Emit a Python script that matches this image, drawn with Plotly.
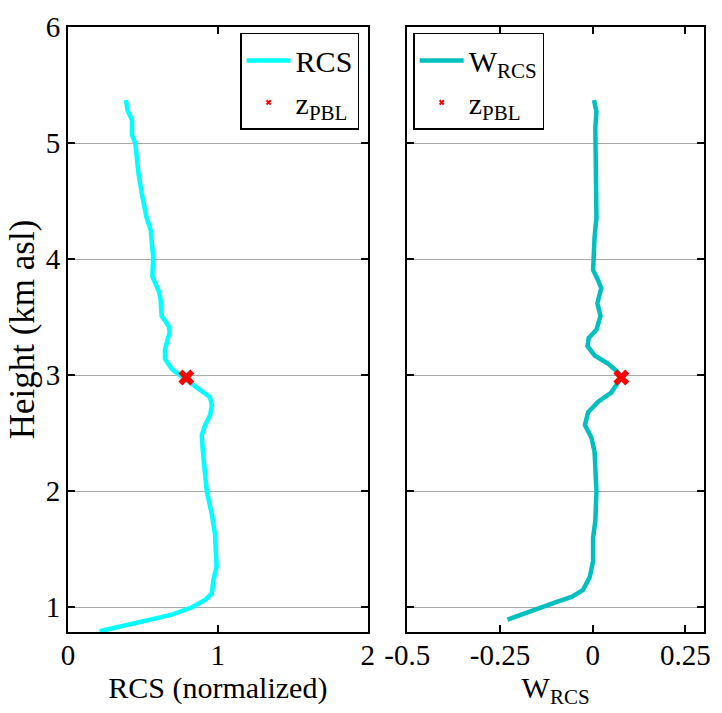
import plotly.graph_objects as go

# RCS profile (normalized) vs height (km asl)
rcs_h = [5.37, 5.28, 5.20, 5.07, 5.00, 4.73, 4.56, 4.36, 4.25, 4.02, 3.85, 3.72, 3.65,
         3.51, 3.42, 3.37, 3.22, 3.14, 3.05, 2.98, 2.88, 2.81, 2.74, 2.655, 2.57, 2.485,
         2.37, 2.17, 2.00, 1.80, 1.63, 1.49, 1.35, 1.235, 1.12, 1.064, 1.00, 0.936,
         0.879, 0.836, 0.793]
rcs_x = [0.387, 0.398, 0.427, 0.427, 0.449, 0.471, 0.493, 0.524, 0.552, 0.568, 0.563,
         0.607, 0.618, 0.625, 0.673, 0.678, 0.647, 0.647, 0.695, 0.772, 0.871, 0.948,
         0.960, 0.948, 0.915, 0.893, 0.898, 0.915, 0.926, 0.960, 0.981, 0.986, 0.992,
         0.970, 0.960, 0.915, 0.827, 0.695, 0.497, 0.343, 0.211]

# Wavelet covariance of RCS vs height
w_h = [5.37, 5.27, 5.13, 4.79, 4.36, 4.19, 4.02, 3.905, 3.82, 3.75, 3.62, 3.51, 3.39,
       3.32, 3.25, 3.17, 3.10, 3.025, 2.98, 2.85, 2.77, 2.68, 2.57, 2.46, 2.34, 2.00,
       1.745, 1.60, 1.40, 1.26, 1.15, 1.09, 1.05, 1.00, 0.95, 0.893]
w_x = [0.0035, 0.010, 0.007, 0.007, 0.010, 0.005, 0.002, 0.001, 0.014, 0.023, 0.0125,
       0.021, 0.010, -0.011, -0.014, 0.005, 0.041, 0.068, 0.077, 0.050, 0.014, -0.0125,
       -0.021, -0.0035, 0.005, 0.010, 0.007, 0.001, 0.001, -0.008, -0.026, -0.057,
       -0.093, -0.137, -0.181, -0.230]

# Detected PBL top
zpbl_h = 2.98
zpbl_rcs = 0.79
zpbl_w = 0.077

FONT = "Liberation Serif, Times New Roman, serif"

fig = go.Figure()

fig.add_trace(go.Scatter(x=rcs_x, y=rcs_h, mode="lines", name="RCS",
                         line=dict(color="#00FFFF", width=4.5),
                         xaxis="x", yaxis="y", legend="legend"))
fig.add_trace(go.Scatter(x=[None], y=[None], mode="markers", name="z<sub>PBL</sub>",
                         marker=dict(symbol="x", color="red", size=5),
                         xaxis="x", yaxis="y", legend="legend"))
fig.add_trace(go.Scatter(x=[zpbl_rcs], y=[zpbl_h], mode="markers", showlegend=False,
                         marker=dict(symbol="x", color="red", size=14),
                         xaxis="x", yaxis="y"))

fig.add_trace(go.Scatter(x=w_x, y=w_h, mode="lines", name="W<sub>RCS</sub>",
                         line=dict(color="#00BFBF", width=4.5),
                         xaxis="x2", yaxis="y2", legend="legend2"))
fig.add_trace(go.Scatter(x=[None], y=[None], mode="markers", name="z<sub>PBL</sub>",
                         marker=dict(symbol="x", color="red", size=5),
                         xaxis="x2", yaxis="y2", legend="legend2"))
fig.add_trace(go.Scatter(x=[zpbl_w], y=[zpbl_h], mode="markers", showlegend=False,
                         marker=dict(symbol="x", color="red", size=14),
                         xaxis="x2", yaxis="y2"))

axis_common = dict(showline=True, linecolor="black", linewidth=2, mirror="ticks",
                   ticks="inside", ticklen=7, tickwidth=2, tickcolor="black",
                   zeroline=False, tickfont=dict(family=FONT, size=29, color="black"))

W, H = 722, 713
ml, mr, mt, mb = 68, 11, 20, 81
pw = W - ml - mr
ph = H - mt - mb
x1_end = (371 - ml) / pw
x2_start = (411 - ml) / pw

legend_style = dict(xanchor="left", yanchor="top", bgcolor="white", bordercolor="black",
                    borderwidth=1.5, itemwidth=44,
                    font=dict(family=FONT, size=30, color="black"))

fig.update_layout(
    width=W, height=H,
    margin=dict(l=ml, r=mr, t=mt, b=mb),
    paper_bgcolor="white", plot_bgcolor="white",
    font=dict(family=FONT, color="black"),
    xaxis=dict(domain=[0, x1_end], range=[0, 2], tickvals=[0, 1, 2], showgrid=False,
               ticklabelstandoff=-4,
               title=dict(text="RCS (normalized)", font=dict(family=FONT, size=30), standoff=4),
               **axis_common),
    yaxis=dict(range=[0.787, 6], tickvals=[1, 2, 3, 4, 5, 6], showgrid=True,
               gridcolor="#a8a8a8", gridwidth=1,
               title=dict(text="Height (km asl)", font=dict(family=FONT, size=35), standoff=0),
               **axis_common),
    xaxis2=dict(domain=[x2_start, 1], range=[-0.5, 0.3], tickvals=[-0.5, -0.25, 0, 0.25],
                ticktext=["-0.5", "-0.25", "0", "0.25"], showgrid=False, anchor="y2",
                ticklabelstandoff=-4,
                title=dict(text="W<sub>RCS</sub>", font=dict(family=FONT, size=30), standoff=0),
                **axis_common),
    yaxis2=dict(range=[0.787, 6], tickvals=[1, 2, 3, 4, 5, 6], showgrid=True,
                gridcolor="#a8a8a8", gridwidth=1, showticklabels=False, anchor="x2",
                **axis_common),
    legend=dict(x=(242 - ml) / pw, y=(H - mb - 26) / ph, **legend_style),
    legend2=dict(x=(417 - ml) / pw, y=(H - mb - 26) / ph, **legend_style),
)

fig.write_html("out.html")
